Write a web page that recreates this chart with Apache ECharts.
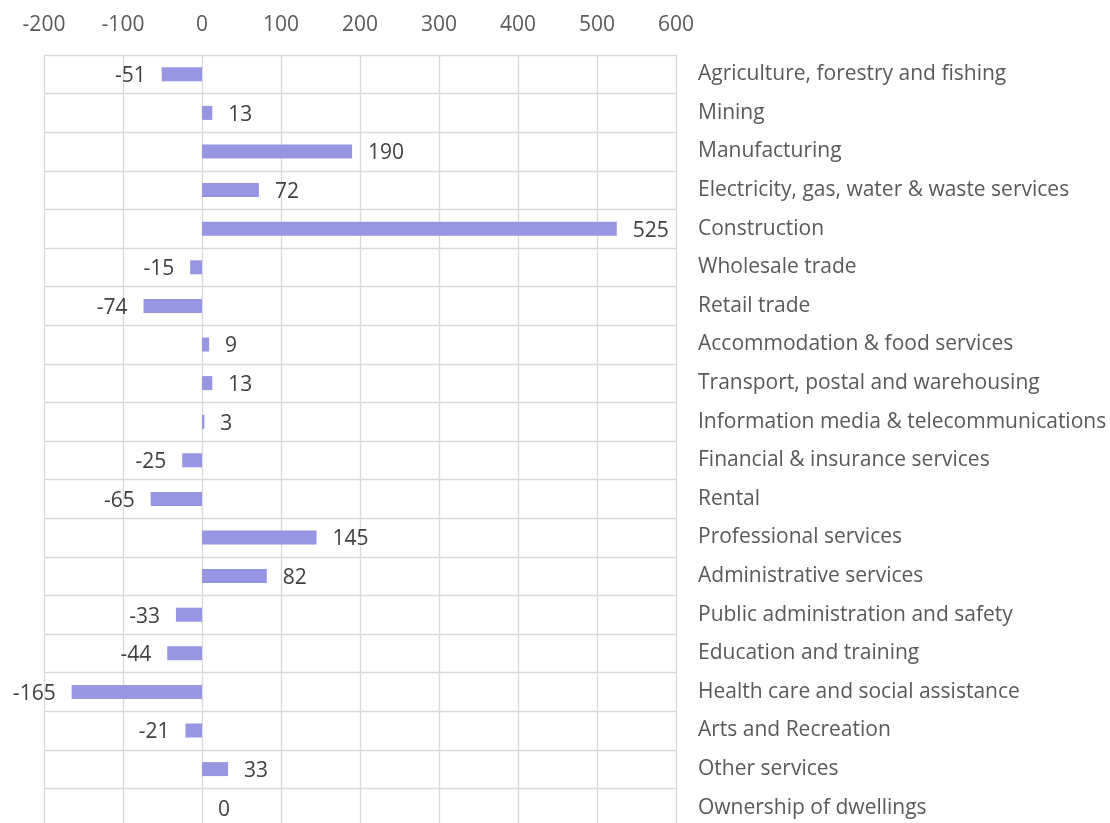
<!DOCTYPE html>
<html>
<head>
<meta charset="utf-8">
<script src="https://cdn.jsdelivr.net/npm/echarts@6/dist/echarts.min.js"></script>
<style>html,body{margin:0;padding:0;background:#fff;}#c{width:1110px;height:823px;}</style>
</head>
<body>
<div id="c"></div>
<script>
const categories = [
  "Agriculture, forestry and fishing",
  "Mining",
  "Manufacturing",
  "Electricity, gas, water & waste services",
  "Construction",
  "Wholesale trade",
  "Retail trade",
  "Accommodation & food services",
  "Transport, postal and warehousing",
  "Information media & telecommunications",
  "Financial & insurance services",
  "Rental",
  "Professional services",
  "Administrative services",
  "Public administration and safety",
  "Education and training",
  "Health care and social assistance",
  "Arts and Recreation",
  "Other services",
  "Ownership of dwellings"
];
const values = [-51, 13, 190, 72, 525, -15, -74, 9, 13, 3, -25, -65, 145, 82, -33, -44, -165, -21, 33, 0];
const xMin = -200, xMax = 600, xStep = 100;

const FONT = "Open Sans";
const chart = echarts.init(document.getElementById('c'));
chart.setOption({
  animation: false,
  grid: { left: 44, width: 632, top: 55, height: 772, containLabel: false, outerBoundsMode: 'none' },
  xAxis: {
    type: 'value', position: 'top', min: xMin, max: xMax, interval: xStep,
    axisLine: { show: false }, axisTick: { show: false },
    axisLabel: { color: '#595959', fontSize: 21, fontFamily: FONT, margin: 19 },
    splitLine: { show: true, lineStyle: { color: '#d9d9d9', width: 1.3 } }
  },
  yAxis: {
    type: 'category', data: categories, inverse: true, position: 'right',
    axisLine: { show: false }, axisTick: { show: false },
    axisLabel: { color: '#595959', fontSize: 21, fontFamily: FONT, margin: 22, align: 'left', padding: [4, 0, 0, 0] },
    splitLine: { show: true, lineStyle: { color: '#d9d9d9', width: 1.3 } }
  },
  series: [{
    type: 'bar', barWidth: 14,
    data: values.map(v => ({
      value: v,
      label: { position: v < 0 ? 'left' : 'right' }
    })),
    itemStyle: { color: '#9696e2' },
    label: { show: true, distance: 16, offset: [0, 2], color: '#404040', fontSize: 21, fontFamily: FONT }
  }]
});
</script>
</body>
</html>
